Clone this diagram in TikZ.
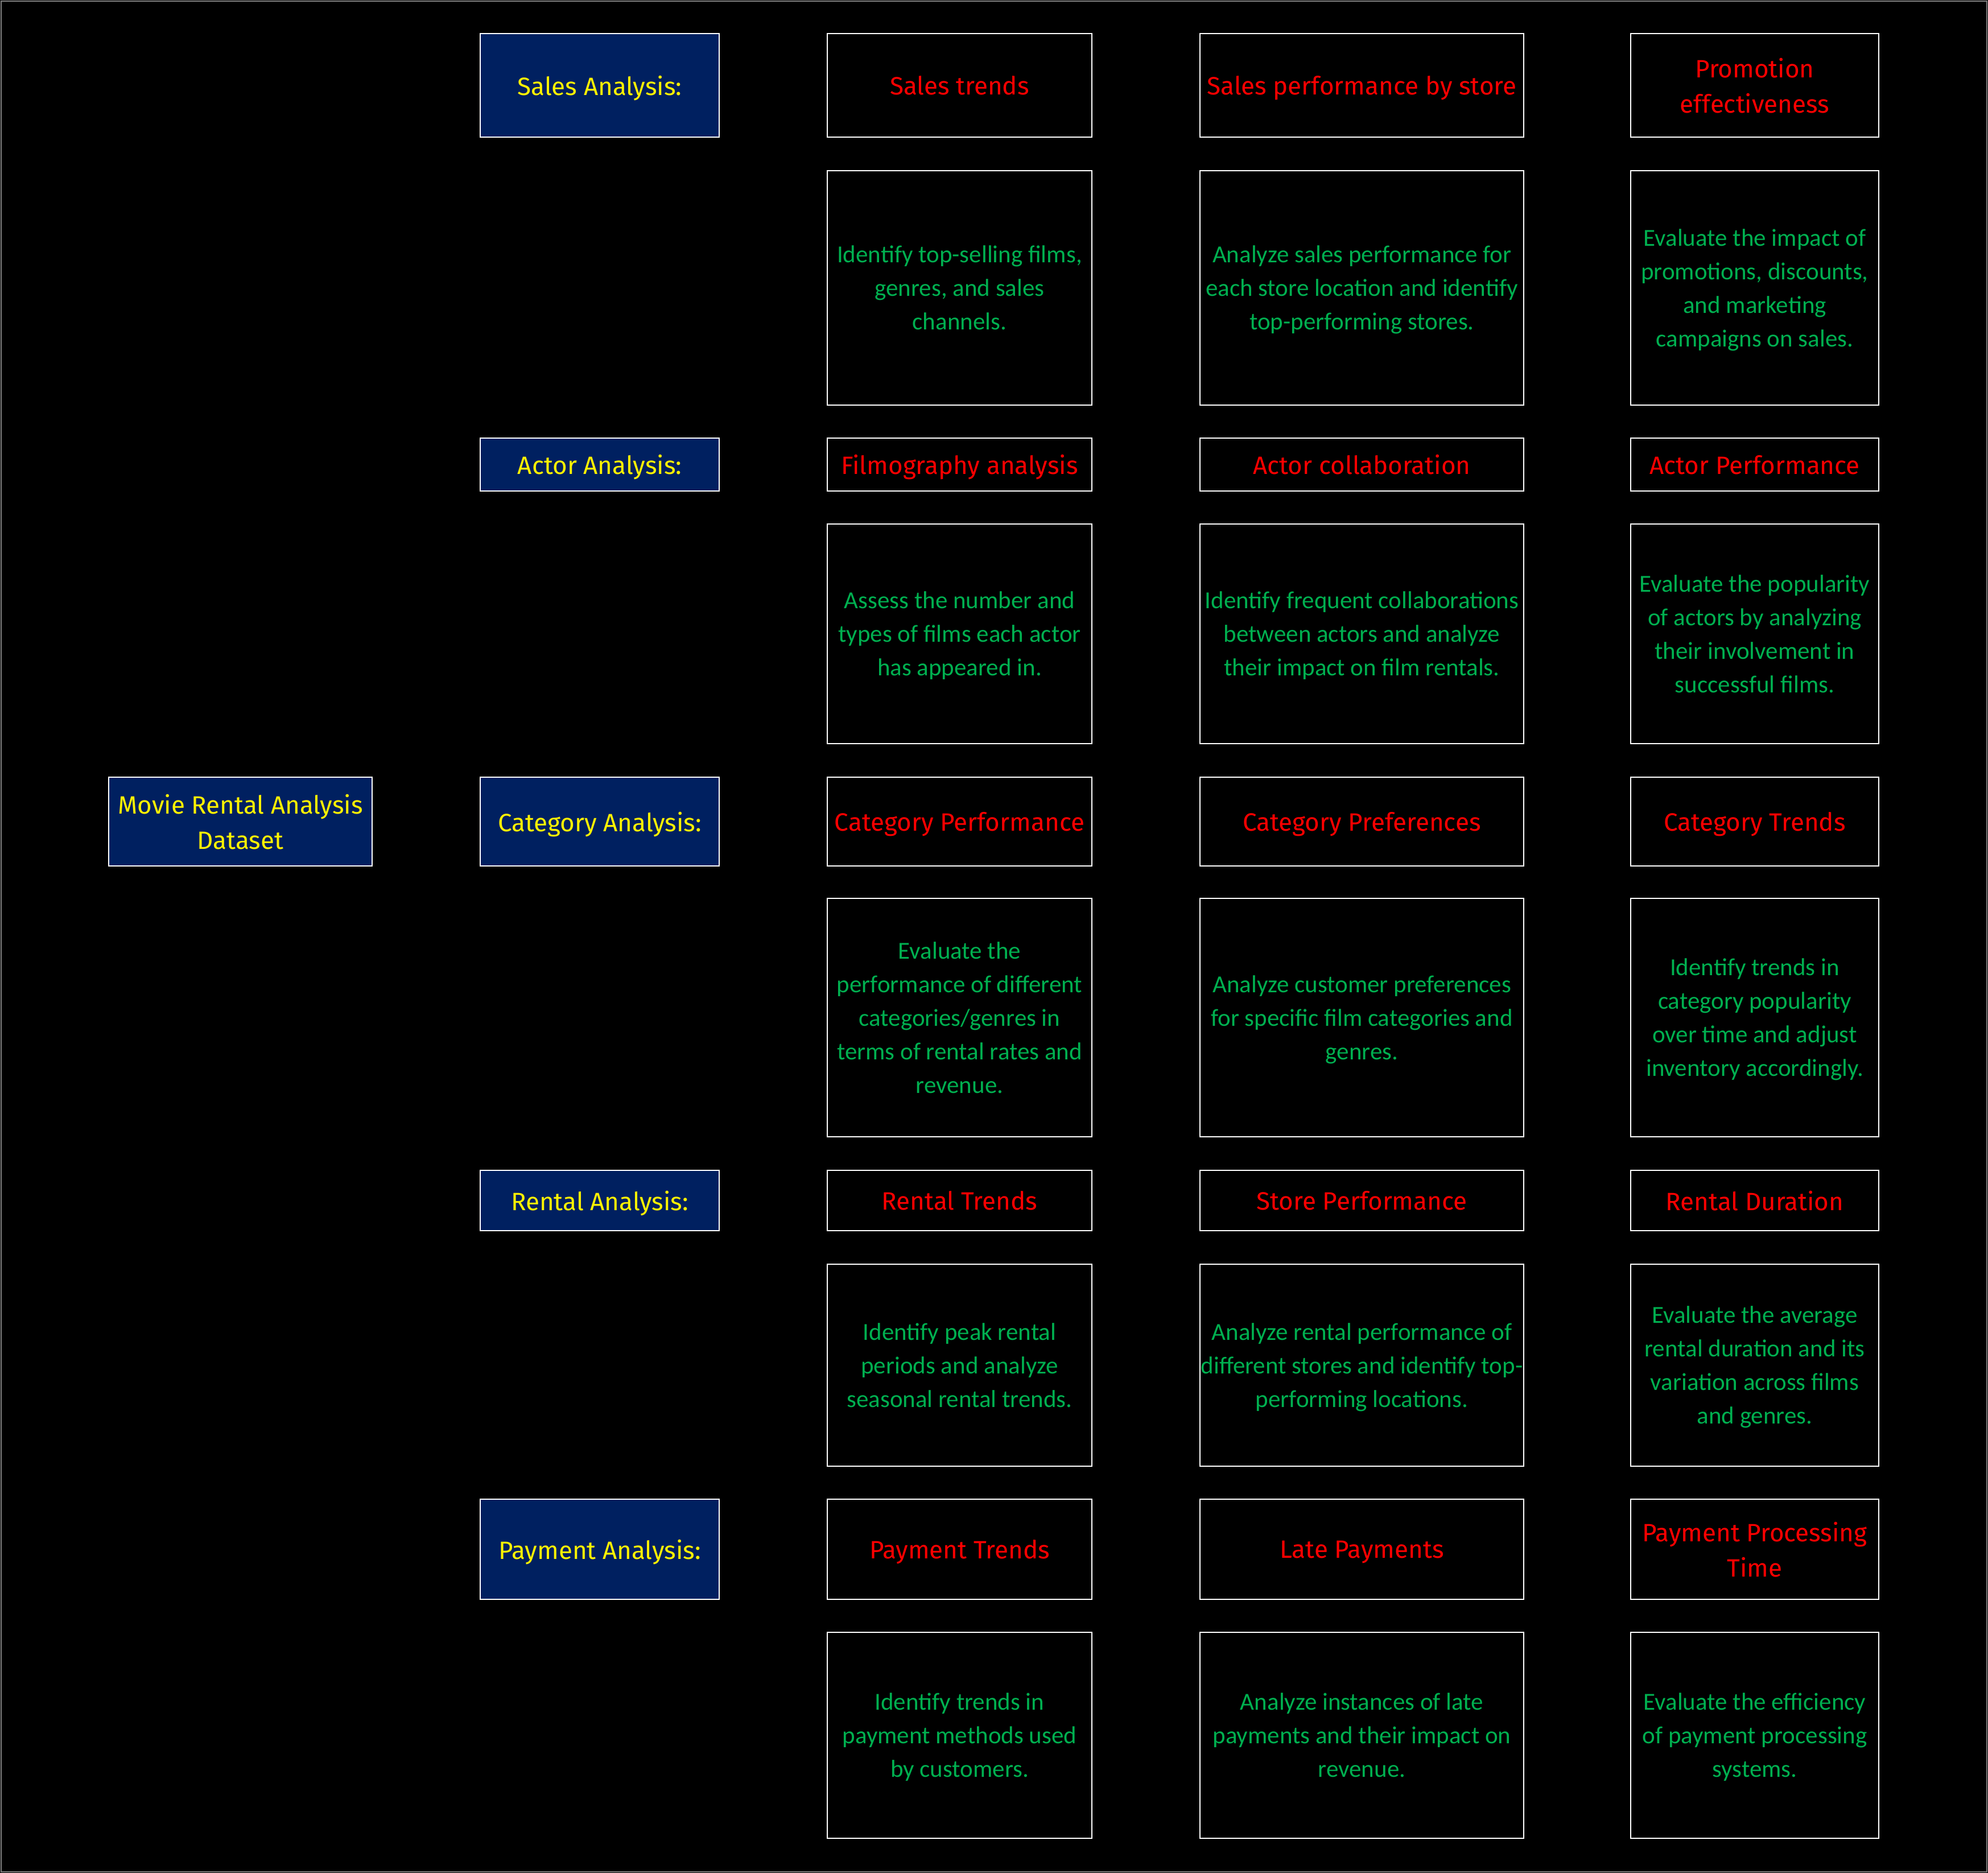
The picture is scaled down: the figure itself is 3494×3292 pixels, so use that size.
\documentclass[tikz,border=0pt]{standalone}
\usepackage{fontspec}
\setmainfont{Carlito}
\newfontfamily\headfont{Fira Sans}
\definecolor{navy}{RGB}{0,32,96}
\definecolor{hdrred}{RGB}{255,0,0}
\definecolor{descgreen}{RGB}{0,176,80}
\definecolor{frame}{RGB}{128,128,128}
\begin{document}
\begin{tikzpicture}[x=1pt,y=-1pt,
  every node/.style={inner sep=0pt,outer sep=0pt,align=center},
  boxbase/.style={draw=white,line width=2.5pt,rectangle},
  topic/.style={boxbase,fill=navy,text=yellow,text depth=0pt,font=\headfont\fontsize{44}{62}\selectfont},
  hdr/.style={boxbase,fill=black,text=hdrred,text depth=0pt,font=\headfont\fontsize{44}{62}\selectfont},
  desc/.style={boxbase,fill=black,text=descgreen,text depth=0pt,font=\fontsize{43}{59}\selectfont},
  colL/.style={minimum width=463pt},
  colA/.style={minimum width=420pt},
  colA1/.style={minimum width=465pt},
  colA2/.style={minimum width=569pt},
  colA3/.style={minimum width=436pt},
]
% page background and outer frame
\fill[black] (0,0) rectangle (3494,3292);
\draw[frame,line width=2pt] (2,2) rectangle (3492,3290);
\useasboundingbox (0,0) rectangle (3494,3292);

% root
\node[topic,colL,minimum height=156pt] (root) at (422.5,1444) {Movie Rental Analysis\\Dataset};

% analysis topics
\node[topic,colA,minimum height=182pt] (sales)    at (1054,150)    {Sales Analysis:};
\node[topic,colA,minimum height=93pt]  (actor)    at (1054,816.5)  {Actor Analysis:};
\node[topic,colA,minimum height=156pt] (category) at (1054,1444)   {Category Analysis:};
\node[topic,colA,minimum height=106pt] (rental)   at (1054,2110)   {Rental Analysis:};
\node[topic,colA,minimum height=176pt] (payment)  at (1054,2723)   {Payment Analysis:};

% sales
\node[hdr,colA1,minimum height=182pt] (s1) at (1686.5,150) {Sales trends};
\node[hdr,colA2,minimum height=182pt] (s2) at (2393.5,150) {Sales performance by store};
\node[hdr,colA3,minimum height=182pt] (s3) at (3084,150)   {Promotion\\effectiveness};
\node[desc,colA1,minimum height=412pt] (s1d) at (1686.5,506) {Identify top-selling films,\\genres, and sales\\channels.};
\node[desc,colA2,minimum height=412pt] (s2d) at (2393.5,506) {Analyze sales performance for\\each store location and identify\\top-performing stores.};
\node[desc,colA3,minimum height=412pt] (s3d) at (3084,506)   {Evaluate the impact of\\promotions, discounts,\\and marketing\\campaigns on sales.};

% actor
\node[hdr,colA1,minimum height=93pt] (a1) at (1686.5,816.5) {Filmography analysis};
\node[hdr,colA2,minimum height=93pt] (a2) at (2393.5,816.5) {Actor collaboration};
\node[hdr,colA3,minimum height=93pt] (a3) at (3084,816.5)   {Actor Performance};
\node[desc,colA1,minimum height=386pt] (a1d) at (1686.5,1114) {Assess the number and\\types of films each actor\\has appeared in.};
\node[desc,colA2,minimum height=386pt] (a2d) at (2393.5,1114) {Identify frequent collaborations\\between actors and analyze\\their impact on film rentals.};
\node[desc,colA3,minimum height=386pt] (a3d) at (3084,1114)   {Evaluate the popularity\\of actors by analyzing\\their involvement in\\successful films.};

% category
\node[hdr,colA1,minimum height=156pt] (c1) at (1686.5,1444) {Category Performance};
\node[hdr,colA2,minimum height=156pt] (c2) at (2393.5,1444) {Category Preferences};
\node[hdr,colA3,minimum height=156pt] (c3) at (3084,1444)   {Category Trends};
\node[desc,colA1,minimum height=419pt] (c1d) at (1686.5,1788.5) {Evaluate the\\performance of different\\categories/genres in\\terms of rental rates and\\revenue.};
\node[desc,colA2,minimum height=419pt] (c2d) at (2393.5,1788.5) {Analyze customer preferences\\for specific film categories and\\genres.};
\node[desc,colA3,minimum height=419pt] (c3d) at (3084,1788.5)   {Identify trends in\\category popularity\\over time and adjust\\inventory accordingly.};

% rental
\node[hdr,colA1,minimum height=106pt] (r1) at (1686.5,2110) {Rental Trends};
\node[hdr,colA2,minimum height=106pt] (r2) at (2393.5,2110) {Store Performance};
\node[hdr,colA3,minimum height=106pt] (r3) at (3084,2110)   {Rental Duration};
\node[desc,colA1,minimum height=355pt] (r1d) at (1686.5,2399.5) {Identify peak rental\\periods and analyze\\seasonal rental trends.};
\node[desc,colA2,minimum height=355pt] (r2d) at (2393.5,2399.5) {Analyze rental performance of\\different stores and identify top-\\performing locations.};
\node[desc,colA3,minimum height=355pt] (r3d) at (3084,2399.5)   {Evaluate the average\\rental duration and its\\variation across films\\and genres.};

% payment
\node[hdr,colA1,minimum height=176pt] (p1) at (1686.5,2723) {Payment Trends};
\node[hdr,colA2,minimum height=176pt] (p2) at (2393.5,2723) {Late Payments};
\node[hdr,colA3,minimum height=176pt] (p3) at (3084,2723)   {Payment Processing\\Time};
\node[desc,colA1,minimum height=362pt] (p1d) at (1686.5,3050) {Identify trends in\\payment methods used\\by customers.};
\node[desc,colA2,minimum height=362pt] (p2d) at (2393.5,3050) {Analyze instances of late\\payments and their impact on\\revenue.};
\node[desc,colA3,minimum height=362pt] (p3d) at (3084,3050)   {Evaluate the efficiency\\of payment processing\\systems.};
\end{tikzpicture}
\end{document}
